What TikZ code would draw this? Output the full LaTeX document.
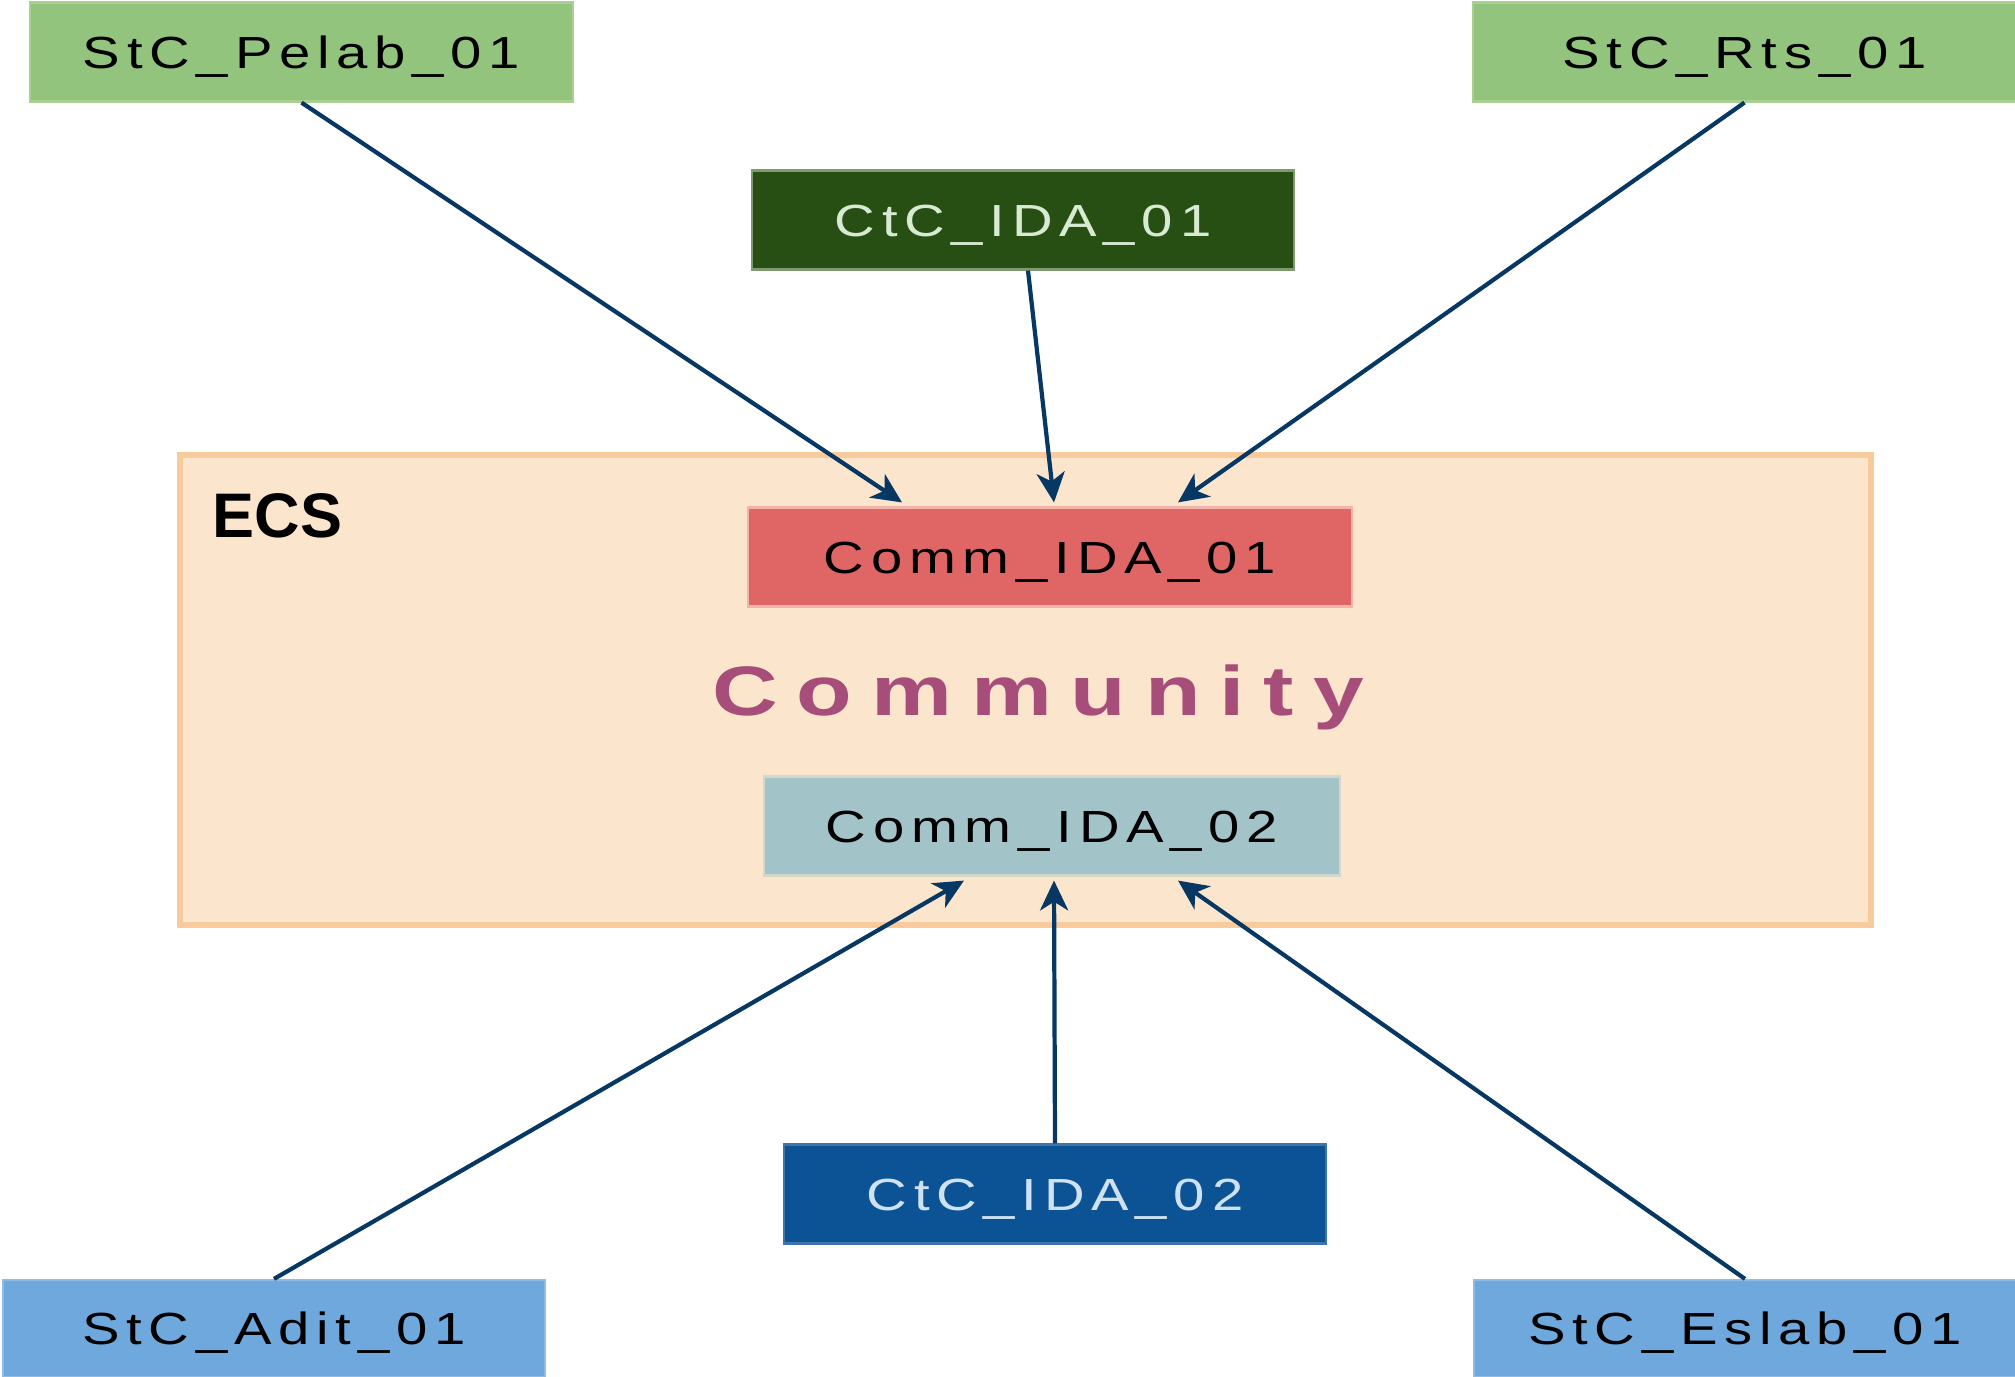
\documentclass[tikz,border=0pt]{standalone}
\usepackage{fontspec}
\setmainfont{Liberation Sans}
\newfontfamily\labfont[FakeStretch=1.25,LetterSpace=15]{Liberation Sans}
\newfontfamily\comfont[FakeStretch=1.3,LetterSpace=27]{Liberation Sans}
\usetikzlibrary{arrows.meta,calc}
\definecolor{lgreen}{HTML}{93C47D}
\definecolor{lgreenB}{HTML}{A9D08E}
\definecolor{dgreen}{HTML}{274E13}
\definecolor{dgreenB}{HTML}{7F9A70}
\definecolor{dgreenT}{HTML}{D9EAD3}
\definecolor{ecsF}{HTML}{FCE5CD}
\definecolor{ecsB}{HTML}{F9CB9C}
\definecolor{lred}{HTML}{E06666}
\definecolor{lredB}{HTML}{F2B3A8}
\definecolor{lcyan}{HTML}{A2C4C9}
\definecolor{lcyanB}{HTML}{D2D8CC}
\definecolor{dblue}{HTML}{0B5394}
\definecolor{dblueB}{HTML}{3D75A8}
\definecolor{dblueT}{HTML}{CFE2F3}
\definecolor{lblue}{HTML}{6FA8DC}
\definecolor{lblueB}{HTML}{8FBCE6}
\definecolor{magentac}{HTML}{A64D79}
\definecolor{arrowc}{HTML}{073763}
\begin{document}
\begin{tikzpicture}[x=0.01cm,y=-0.01cm,
  box/.style={rectangle, inner sep=0pt, minimum width=5.42cm, minimum height=0.99cm,
    text height=9.2pt, text depth=0pt,
    font=\labfont\fontsize{12.8}{14}\selectfont, line width=0.6pt},
  arr/.style={draw=arrowc, line width=1.2pt, -{Stealth[length=8.5pt, width=8pt, inset=2.5pt]}}]
\useasboundingbox (0,0) rectangle (2015,1377);
\fill[white] (0,0) rectangle (2015,1377);

\node[box, fill=lgreen, draw=lgreenB] (pelab) at (301.5,52) {StC\_Pelab\_01};
\node[box, fill=lgreen, draw=lgreenB] (rts) at (1744.5,52) {StC\_Rts\_01};
\node[box, fill=dgreen, draw=dgreenB, text=dgreenT] (ctc1) at (1023,220) {CtC\_IDA\_01};

\node[draw=ecsB, fill=ecsF, line width=1.7pt, minimum width=16.9cm, minimum height=4.7cm, inner sep=0pt] (ecs) at (1025,690) {};
\node[anchor=base west, inner sep=0pt, font=\bfseries\fontsize{17.9}{20}\selectfont] (ecslabel) at (212,538) {ECS};

\node[box, minimum width=6.03cm, fill=lred, draw=lredB] (c1) at (1050,557) {Comm\_IDA\_01};
\node[anchor=base, inner sep=0pt, font=\comfont\bfseries\fontsize{19.9}{22}\selectfont, text=magentac] (comm) at (1038,716) {Community};
\node[box, minimum width=5.75cm, fill=lcyan, draw=lcyanB] (c2) at (1052,826) {Comm\_IDA\_02};

\node[box, fill=dblue, draw=dblueB, text=dblueT] (ctc2) at (1055,1194) {CtC\_IDA\_02};
\node[box, minimum height=0.97cm, fill=lblue, draw=lblueB] (adit) at (274,1328.5) {StC\_Adit\_01};
\node[box, minimum height=0.97cm, fill=lblue, draw=lblueB] (eslab) at (1745,1328.5) {StC\_Eslab\_01};

\coordinate (t1) at ($(c1.north)+(-148,-4)$);
\coordinate (t2) at ($(c1.north)+(4,-4)$);
\coordinate (t3) at ($(c1.north)+(128,-4)$);
\coordinate (b1) at ($(c2.south)+(-88,4)$);
\coordinate (b2) at ($(c2.south)+(2,4)$);
\coordinate (b3) at ($(c2.south)+(126,4)$);

\draw[arr] (pelab.south) -- (t1);
\draw[arr] ($(ctc1.south)+(5,0)$) -- (t2);
\draw[arr] (rts.south) -- (t3);
\draw[arr] (adit.north) -- (b1);
\draw[arr] (ctc2.north) -- (b2);
\draw[arr] (eslab.north) -- (b3);
\end{tikzpicture}
\end{document}
